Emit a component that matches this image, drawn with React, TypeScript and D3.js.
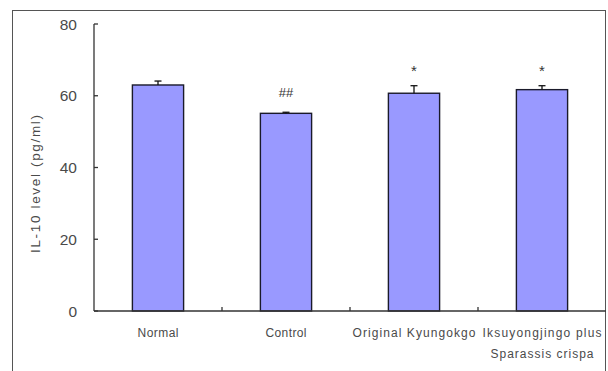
import React from "react";
import * as d3 from "d3";

// values
const groups = ["Normal", "Control", "Original Kyungokgo", "Iksuyongjingo plus|Sparassis crispa"];
const means = [63.0, 55.1, 60.7, 61.7];
const errors = [1.1, 0.3, 2.1, 1.1];
const marks = ["", "##", "*", "*"];
const yTicks = [0, 20, 40, 60, 80];

const W = 608;
const H = 371;
const margin = { top: 24, right: 2, bottom: 60, left: 94 };

// widths the labels take in the original (Gulim-like font is wide)
const labelWidth: Record<string, number> = {
  Normal: 41,
  Control: 41,
  "Original Kyungokgo": 123,
  "Iksuyongjingo plus": 119,
  "Sparassis crispa": 103,
};

const App = () => {
  const x = d3
    .scaleBand()
    .domain(groups)
    .range([margin.left, W - margin.right])
    .padding(0);

  const y = d3
    .scaleLinear()
    .domain([0, 80])
    .range([H - margin.bottom, margin.top]);

  const barW = x.bandwidth() * 0.4;
  const axisColor = "#333";
  const textColor = "#4a4a4a";

  return (
    <svg
      width={W}
      height={H}
      style={{ position: "absolute", left: 0, top: 0, background: "#fff" }}
      fontFamily="'Liberation Sans', Arial, sans-serif"
    >
      {/* outer frame */}
      <rect x={12.5} y={10.5} width={593} height={380} fill="none" stroke="#555" strokeWidth={1} />

      {/* bars */}
      {groups.map((g, i) => {
        const cx = x(g) + x.bandwidth() / 2;
        const top = y(means[i] + errors[i]);
        return (
          <g key={g}>
            <rect
              x={cx - barW / 2}
              y={y(means[i])}
              width={barW}
              height={y(0) - y(means[i])}
              fill="#9999ff"
              stroke="#1a1a2a"
              strokeWidth={1.4}
            />
            <line x1={cx} x2={cx} y1={y(means[i])} y2={top} stroke="#111" strokeWidth={1.3} />
            <line x1={cx - 3.5} x2={cx + 3.5} y1={top} y2={top} stroke="#111" strokeWidth={1.3} />
            {marks[i] && (
              <text
                x={cx}
                y={marks[i] === "*" ? top - 10 : top - 15}
                textAnchor="middle"
                fontSize={marks[i] === "*" ? 15 : 13}
                fill="#333"
              >
                {marks[i]}
              </text>
            )}
          </g>
        );
      })}

      {/* y axis */}
      <line x1={margin.left} x2={margin.left} y1={y(80)} y2={y(0)} stroke={axisColor} strokeWidth={1.3} />
      {yTicks.map((t) => (
        <g key={t}>
          <line x1={margin.left} x2={margin.left + 4} y1={y(t)} y2={y(t)} stroke={axisColor} strokeWidth={1.3} />
          <text x={77} y={y(t)} dy="0.36em" textAnchor="end" fontSize={15.5} fill={textColor}>
            {t}
          </text>
        </g>
      ))}
      <text
        transform={`translate(40,184) rotate(-90)`}
        textAnchor="middle"
        fontSize={13.5}
        fill={textColor}
        textLength={138}
        lengthAdjust="spacing"
      >
        IL-10 level (pg/ml)
      </text>

      {/* x axis */}
      <line x1={margin.left} x2={W - margin.right} y1={y(0)} y2={y(0)} stroke={axisColor} strokeWidth={1.3} />
      {groups.slice(1).map((g) => (
        <line key={g} x1={x(g)} x2={x(g)} y1={y(0)} y2={y(0) - 4} stroke={axisColor} strokeWidth={1.3} />
      ))}
      {groups.map((g) => {
        const cx = x(g) + x.bandwidth() / 2;
        return g.split("|").map((line, j) => (
          <text
            key={g + j}
            x={cx}
            y={y(0) + 26 + j * 21}
            textAnchor="middle"
            fontSize={12}
            fill={textColor}
            textLength={labelWidth[line]}
            lengthAdjust="spacing"
          >
            {line}
          </text>
        ));
      })}
    </svg>
  );
};

export default App;
